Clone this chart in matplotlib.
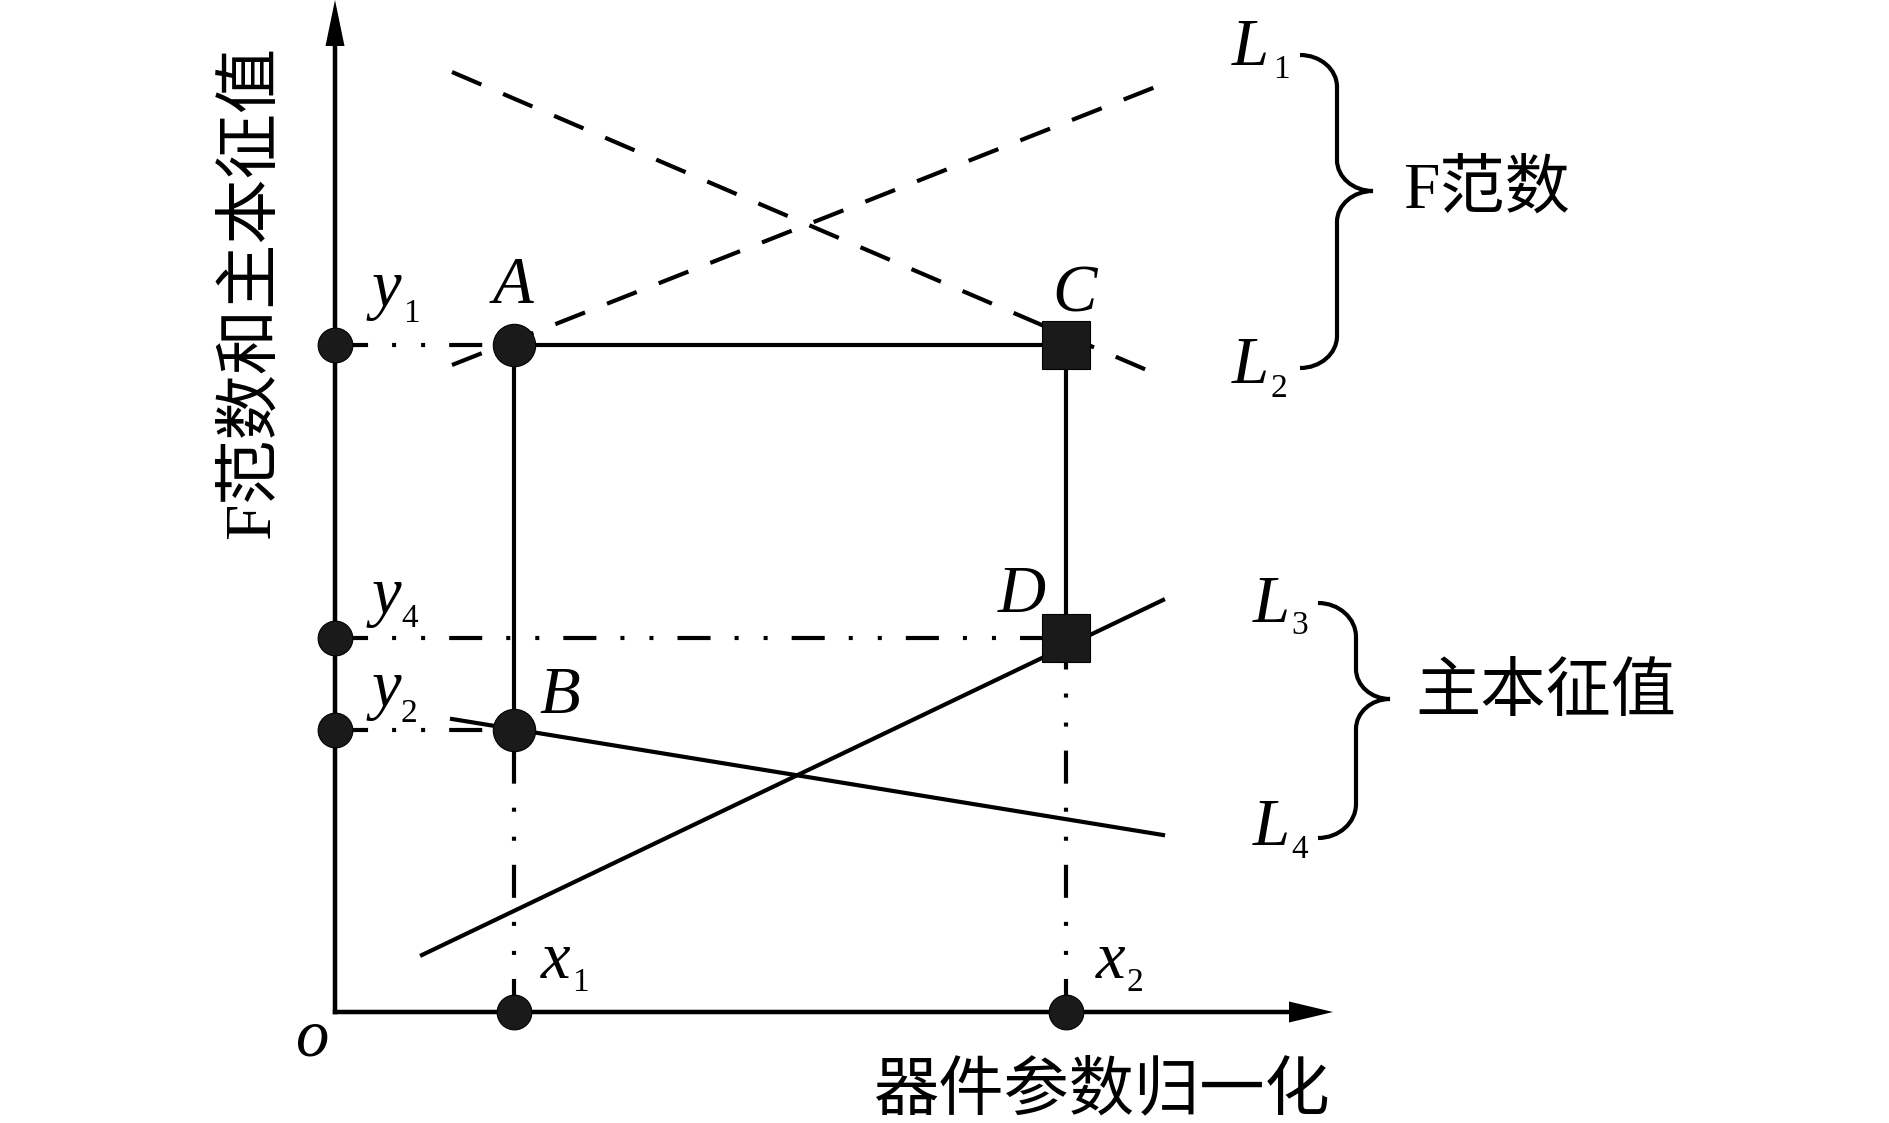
import matplotlib
matplotlib.use("Agg")
import matplotlib.pyplot as plt
from matplotlib.path import Path
from matplotlib.patches import PathPatch

plt.rcParams['lines.scale_dashes'] = False

# data (origin at o, units ~ 100 px of the reference)
x_pts = [1.79, 7.31]            # x1, x2
y_pts = [6.67, 2.82, 3.74]      # y1, y2, y4
x_end, y_end = 9.98, 10.12      # arrow tips of the two axes

# F-norm lines (dashed) and eigenvalue lines (solid)
L1_x, L1_y = [1.17, 8.28], [6.47, 9.28]
L2_x, L2_y = [1.17, 8.28], [9.40, 6.35]
L3_x, L3_y = [0.87, 8.28], [0.57, 4.12]
L4_x, L4_y = [1.17, 8.28], [2.93, 1.77]

x_label = "器件参数归一化"
y_label = "F范数和主本征值"
group_labels = ["F范数", "主本征值"]

ink = '#1a1a1a'
lw = 3.0
dashdotdot = (0, (23.8, 17.3, 2.9, 18.0, 2.9, 17.3))
dashed = (0, (23.0, 17.0))

fig = plt.figure(figsize=(18.89, 11.23), dpi=100)
ax = fig.add_axes([0, 0, 1, 1])
ax.set_xlim(-3.35, 15.54)
ax.set_ylim(-1.11, 10.12)
ax.axis('off')

# axes with arrow heads
ax.arrow(-0.0225, 0, x_end + 0.0225, 0, width=0.045, head_width=0.21,
         head_length=0.44, length_includes_head=True, fc='k', ec='none', zorder=3)
ax.arrow(0, -0.0225, 0, y_end + 0.0225, width=0.045, head_width=0.19,
         head_length=0.46, length_includes_head=True, fc='k', ec='none', zorder=3)

x1, x2 = x_pts
y1, y2, y4 = y_pts

# guide lines (dash-dot-dot), drawn away from the axes
ax.plot([0, x1], [y1, y1], color='k', lw=lw, ls=dashdotdot)
ax.plot([0, x2], [y4, y4], color='k', lw=lw, ls=dashdotdot)
ax.plot([0, x1], [y2, y2], color='k', lw=lw, ls=dashdotdot)
ax.plot([x1, x1], [0, y2], color='k', lw=lw, ls=dashdotdot)
ax.plot([x2, x2], [0, y4], color='k', lw=lw, ls=dashdotdot)

# solid frame A-C, A-B, C-D
ax.plot([x1, x2], [y1, y1], color='k', lw=lw)
ax.plot([x1, x1], [y1, y2], color='k', lw=lw)
ax.plot([x2, x2], [y1, y4], color='k', lw=lw)

ax.plot(L1_x, L1_y, color='k', lw=lw, ls=dashed)
ax.plot(L2_x, L2_y, color='k', lw=lw, ls=dashed)
ax.plot(L3_x, L3_y, color='k', lw=lw)
ax.plot(L4_x, L4_y, color='k', lw=lw)

# markers
ax.plot([0, 0, 0], y_pts, 'o', ms=25, color=ink, mec='k', mew=0.8, zorder=5)
ax.plot(x_pts, [0, 0], 'o', ms=25, color=ink, mec='k', mew=0.8, zorder=5)
ax.plot([x1, x1], [y1, y2], 'o', ms=30.5, color=ink, mec='k', mew=0.8, zorder=5)
ax.plot([x2, x2], [y1, y4], 's', ms=34, color=ink, mec='k', mew=0.8, zorder=5)

# italic letters with small subscripts
serif = 'Liberation Serif'
big, small = 48, 24


def sub_label(x, y, main, sub, sx, sy):
    ax.text(x, y, main, family=serif, style='italic', fontsize=big,
            ha='left', va='baseline', zorder=6)
    ax.text(sx, sy, sub, family=serif, fontsize=small,
            ha='left', va='baseline', zorder=6)


sub_label(0.37, 7.05, 'y', '1', 0.68, 6.90)
sub_label(0.37, 3.98, 'y', '4', 0.66, 3.85)
sub_label(0.37, 3.05, 'y', '2', 0.66, 2.90)
sub_label(2.06, 0.34, 'x', '1', 2.37, 0.21)
sub_label(7.61, 0.34, 'x', '2', 7.91, 0.21)
sub_label(8.97, 9.47, 'L', '1', 9.38, 9.34)
sub_label(8.97, 6.29, 'L', '2', 9.36, 6.15)
sub_label(9.18, 3.90, 'L', '3', 9.56, 3.78)
sub_label(9.18, 1.67, 'L', '4', 9.56, 1.54)

for name, px, py in [('A', 1.78, 7.09), ('B', 2.25, 2.99),
                     ('C', 7.40, 7.00), ('D', 6.87, 4.00)]:
    ax.text(px, py, name, family=serif, style='italic', fontsize=big,
            ha='center', va='baseline', zorder=6)
ax.text(-0.23, -0.43, 'o', family=serif, style='italic', fontsize=big,
        ha='center', va='baseline')


# curly braces
def brace(xe, xs, xt, yt, ym, yb, r, r2):
    k = 0.5523
    w = xs - xe
    v = [(xe, yt), (xe + k * w, yt), (xs, yt - r + k * r), (xs, yt - r),
         (xs, ym + r2),
         (xs, ym + r2 - k * r2), (xt - k * (xt - xs), ym), (xt, ym),
         (xt - k * (xt - xs), ym), (xs, ym - r2 + k * r2), (xs, ym - r2),
         (xs, yb + r),
         (xs, yb + r - k * r), (xe + k * w, yb), (xe, yb)]
    c = [Path.MOVETO, Path.CURVE4, Path.CURVE4, Path.CURVE4,
         Path.LINETO,
         Path.CURVE4, Path.CURVE4, Path.CURVE4,
         Path.CURVE4, Path.CURVE4, Path.CURVE4,
         Path.LINETO,
         Path.CURVE4, Path.CURVE4, Path.CURVE4]
    ax.add_patch(PathPatch(Path(v, c), fill=False, lw=lw, ec='k',
                           capstyle='butt'))


brace(9.65, 10.02, 10.38, 9.57, 8.21, 6.44, 0.32, 0.31)
brace(9.83, 10.21, 10.55, 4.09, 3.13, 1.74, 0.34, 0.30)

cjk = [serif, 'Noto Sans CJK SC']
ax.text(10.68, 8.21, group_labels[0], family=cjk, fontsize=47,
        ha='left', va='center')
ax.text(10.80, 3.17, group_labels[1], family=cjk, fontsize=47,
        ha='left', va='center')

ax.text(7.66, -0.81, x_label, family=cjk, fontsize=47, ha='center', va='center')
ax.text(-0.83, 7.20, y_label, family=cjk, fontsize=47, rotation=90,
        ha='center', va='center')

fig.savefig('out.png', dpi=100)
